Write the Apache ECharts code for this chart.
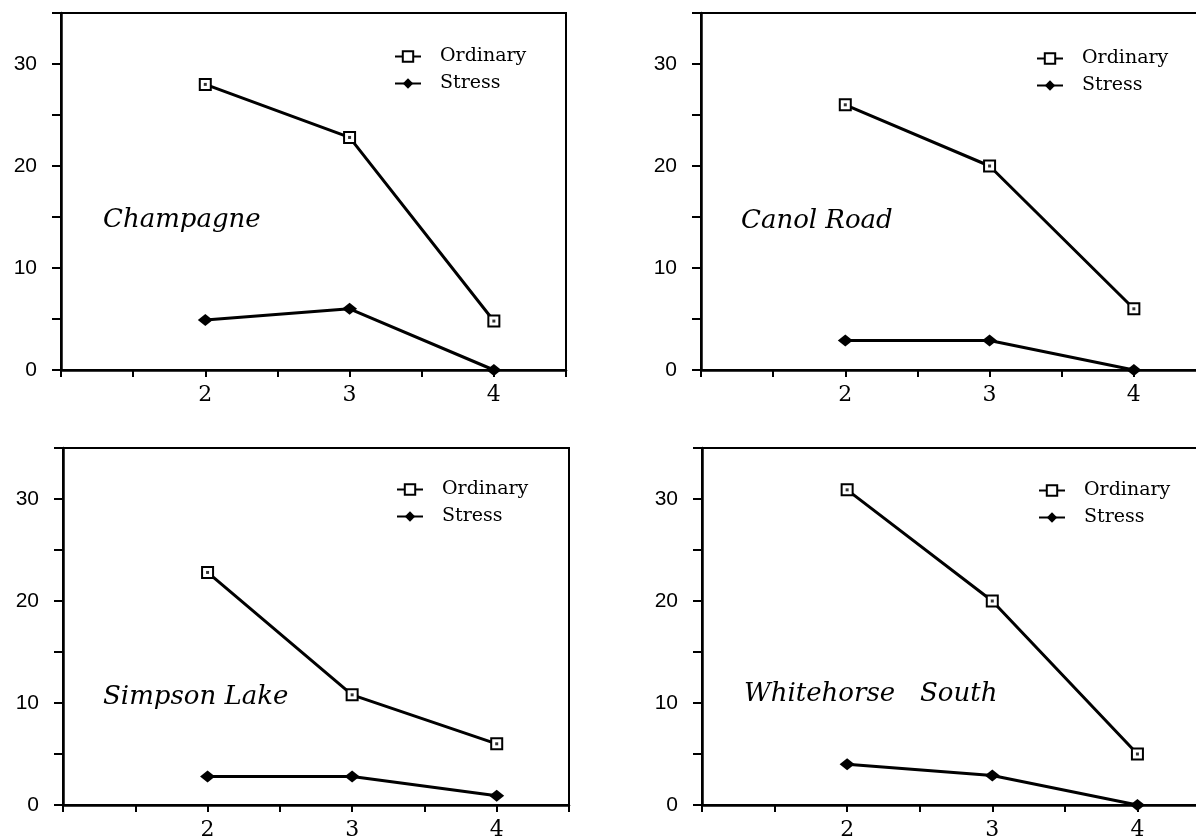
<!DOCTYPE html>
<html>
<head>
<meta charset="utf-8">
<script src="https://cdn.jsdelivr.net/npm/echarts@6/dist/echarts.min.js"></script>
<style>
html,body{margin:0;padding:0;background:#fff;}
#chart{width:1196px;height:840px;}
</style>
</head>
<body>
<div id="chart"></div>
<script>
// ---- data ----
const xCategories = [2, 3, 4];
const xTickLabels = [2, 3, 4];
const yTickLabels = [0, 10, 20, 30];
const seriesNames = ['Ordinary', 'Stress'];
const panelNames = ['Champagne', 'Canol Road', 'Simpson Lake', 'Whitehorse   South'];

const ordinaryChampagne = [28, 22.8, 4.8];
const stressChampagne   = [4.9, 6, 0];
const ordinaryCanol     = [26, 20, 6];
const stressCanol       = [2.9, 2.9, 0];
const ordinarySimpson   = [22.8, 10.8, 6];
const stressSimpson     = [2.8, 2.8, 0.9];
const ordinaryWhite     = [30.9, 20, 5];
const stressWhite       = [4, 2.9, 0];

const panelOrdinary = [ordinaryChampagne, ordinaryCanol, ordinarySimpson, ordinaryWhite];
const panelStress   = [stressChampagne, stressCanol, stressSimpson, stressWhite];

// ---- layout ----
const grids = [
  {left: 61, top: 13, width: 505, height: 357},
  {left: 701, top: 13, width: 505, height: 357},
  {left: 63, top: 448, width: 506, height: 357},
  {left: 702, top: 448, width: 508, height: 357}
];
const legendPos = [
  {left: 394, top: 47},
  {left: 1036, top: 49},
  {left: 396, top: 480},
  {left: 1038, top: 481}
];
const labelPos = [
  {left: 103, top: 207},
  {left: 741, top: 208},
  {left: 103, top: 684},
  {left: 744, top: 681}
];

const toPts = arr => xCategories.map((x, i) => [x, arr[i]]);

const option = {
  animation: false,
  backgroundColor: '#fff',
  grid: grids.map(g => Object.assign({show: true, borderColor: '#000', borderWidth: 2, backgroundColor: 'transparent', outerBoundsMode: 'none', containLabel: false}, g)),
  xAxis: grids.map((g, i) => ({
    type: 'value', gridIndex: i, min: 1, max: 4.5, interval: 0.5,
    splitLine: {show: false},
    axisLine: {show: true, onZero: false, lineStyle: {color: '#000', width: 2.5}},
    axisTick: {show: true, length: 7, lineStyle: {color: '#000', width: 2}},
    axisLabel: {
      color: '#000', fontFamily: 'DejaVu Serif', fontSize: 22, margin: 14,
      formatter: v => xTickLabels.includes(v) ? String(v) : ''
    }
  })),
  yAxis: grids.map((g, i) => ({
    type: 'value', gridIndex: i, min: 0, max: 35, interval: 5,
    splitLine: {show: false},
    axisLine: {show: true, lineStyle: {color: '#000', width: 2.5}},
    axisTick: {show: true, length: 9, lineStyle: {color: '#000', width: 2}},
    axisLabel: {
      color: '#000', fontFamily: 'Liberation Sans', fontSize: 21, margin: 24,
      formatter: v => yTickLabels.includes(v) ? String(v) : ''
    }
  })),
  legend: legendPos.map(p => ({
    data: seriesNames, orient: 'vertical', left: p.left, top: p.top,
    padding: 0, itemGap: 8, itemWidth: 26, itemHeight: 13,
    selectedMode: false,
    textStyle: {color: '#000', fontFamily: 'DejaVu Serif', fontSize: 19, lineHeight: 19, padding: [0, 0, 0, 14]}
  })),
  graphic: labelPos.map((p, i) => ({
    type: 'text', left: p.left, top: p.top,
    style: {text: panelNames[i], font: 'italic 26px "DejaVu Serif"', fill: '#000'}
  })),
  series: []
};

for (let i = 0; i < 4; i++) {
  option.series.push({
    type: 'line', name: seriesNames[0], xAxisIndex: i, yAxisIndex: i,
    data: toPts(panelOrdinary[i]), clip: false,
    symbol: 'emptyRect', symbolSize: 11, showAllSymbol: true,
    lineStyle: {color: '#000', width: 3},
    itemStyle: {color: '#000', borderColor: '#000', borderWidth: 2.2},
    z: 3
  });
  option.series.push({
    type: 'scatter', name: 'dot', xAxisIndex: i, yAxisIndex: i,
    data: toPts(panelOrdinary[i]), clip: false, silent: true,
    symbol: 'rect', symbolSize: 3,
    itemStyle: {color: '#000'}, z: 6
  });
  option.series.push({
    type: 'line', name: seriesNames[1], xAxisIndex: i, yAxisIndex: i,
    data: toPts(panelStress[i]), clip: false,
    symbol: 'diamond', symbolSize: [15, 12], showAllSymbol: true,
    lineStyle: {color: '#000', width: 3},
    itemStyle: {color: '#000'},
    z: 3
  });
}

const chart = echarts.init(document.getElementById('chart'), null, {renderer: 'canvas'});
chart.setOption(option);
</script>
</body>
</html>
